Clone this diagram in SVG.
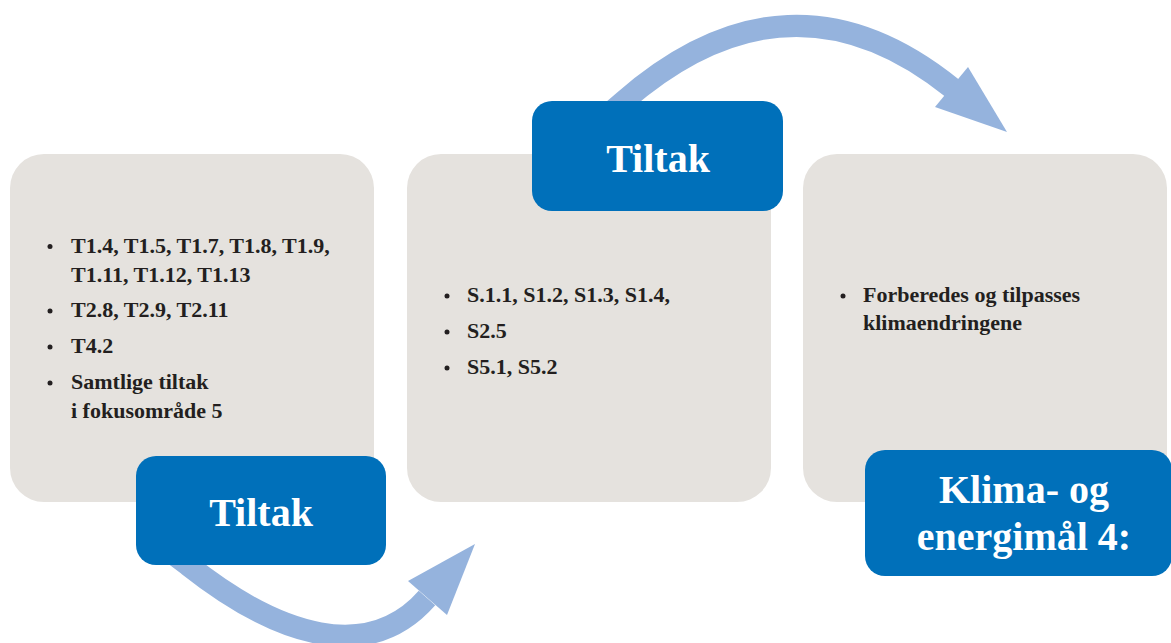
<svg xmlns="http://www.w3.org/2000/svg" width="1171" height="643" viewBox="0 0 1171 643">
<style>
.card{fill:#e5e2de}
.lab{fill:#0070ba}
.body{font-family:"Liberation Serif",serif;font-weight:bold;font-size:22px;fill:#231f20}
.head{font-family:"Liberation Serif",serif;font-weight:bold;font-size:40px;fill:#ffffff;text-anchor:middle}
.dot{fill:#231f20}
.shaft{fill:none;stroke:#95b3dd;stroke-width:22}
.tip{fill:#95b3dd}
</style>
<rect width="1171" height="643" fill="#ffffff"/>
<g id="connectors">
  <path class="shaft" d="M 610 113 L 624 101 C 733 6 843 0 952 88"/>
  <polygon class="tip" points="968,67 1007,132 935,107"/>
  <path class="shaft" d="M 176 556 L 188 565 C 279 637 369 664 427 598"/>
  <polygon class="tip" points="408,581 475,544 447,615"/>
</g>
<g id="node1">
  <rect class="card" x="10" y="154" width="364" height="348" rx="34"/>
  <circle class="dot" cx="50" cy="246.5" r="2.5"/>
  <text class="body" x="71" y="252.5">T1.4, T1.5, T1.7, T1.8, T1.9,</text>
  <text class="body" x="71" y="281.5">T1.11, T1.12, T1.13</text>
  <circle class="dot" cx="50" cy="311" r="2.5"/>
  <text class="body" x="71" y="317">T2.8, T2.9, T2.11</text>
  <circle class="dot" cx="50" cy="347" r="2.5"/>
  <text class="body" x="71" y="353">T4.2</text>
  <circle class="dot" cx="50" cy="383" r="2.5"/>
  <text class="body" x="71" y="389">Samtlige tiltak</text>
  <text class="body" x="71" y="417.5">i fokusområde 5</text>
</g>
<g id="label1">
  <rect class="lab" x="136" y="456" width="250" height="109" rx="20"/>
  <text class="head" x="261" y="526">Tiltak</text>
</g>
<g id="node2">
  <rect class="card" x="407" y="154" width="364" height="348" rx="34"/>
  <circle class="dot" cx="447" cy="296" r="2.5"/>
  <text class="body" x="467" y="302">S.1.1, S1.2, S1.3, S1.4,</text>
  <circle class="dot" cx="447" cy="332" r="2.5"/>
  <text class="body" x="467" y="338">S2.5</text>
  <circle class="dot" cx="447" cy="368" r="2.5"/>
  <text class="body" x="467" y="374">S5.1, S5.2</text>
</g>
<g id="label2">
  <rect class="lab" x="532" y="101" width="251" height="110" rx="20"/>
  <text class="head" x="658" y="172">Tiltak</text>
</g>
<g id="node3">
  <rect class="card" x="803" y="154" width="364" height="348" rx="34"/>
  <circle class="dot" cx="843" cy="296" r="2.5"/>
  <text class="body" x="863" y="302">Forberedes og tilpasses</text>
  <text class="body" x="863" y="330">klimaendringene</text>
</g>
<g id="label3">
  <rect class="lab" x="865" y="450" width="307" height="126" rx="20"/>
  <text class="head" x="1024" y="503">Klima- og</text>
  <text class="head" x="1024" y="550">energimål 4:</text>
</g>
</svg>
